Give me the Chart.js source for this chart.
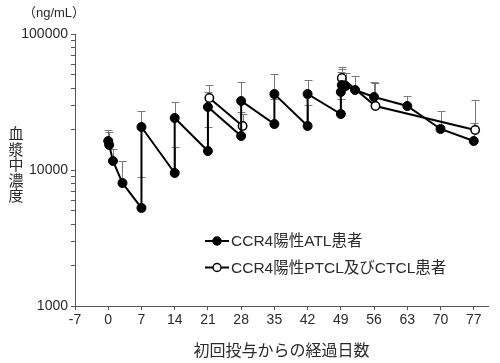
<!DOCTYPE html>
<html>
<head>
<meta charset="utf-8">
<script src="https://cdn.jsdelivr.net/npm/chart.js@4"></script>
<style>
html,body{margin:0;padding:0;background:#fff;}
#wrap{width:500px;height:363px;position:relative;}
</style>
</head>
<body>
<div id="wrap"><canvas id="c" width="500" height="363"></canvas></div>
<script>
// ---- data ----
const xTicks = [-7, 0, 7, 14, 21, 28, 35, 42, 49, 56, 63, 70, 77];
const yTickLabels = [1000, 10000, 100000];
const seriesNames = ['CCR4陽性ATL患者', 'CCR4陽性PTCL及びCTCL患者'];

const atlDays   = [0, 0.2, 1, 3, 7, 7, 14, 14, 21, 21, 28, 28, 35, 35, 42, 42, 49, 49, 49.2, 50, 52, 56, 63, 70, 77];
const atlValues = [16340, 15270, 11650, 8020, 5260, 20700, 9510, 24110, 13790, 29040, 17780, 32170, 21780, 36220, 21080, 36220, 25800, 37470, 42170, 41480, 38740, 34420, 29540, 20030, 16340];
const atlUpper  = [19680, 19030, 14270, 11650, 8880, 27160, 14760, 31620, 20700, 37470, 26690, 44370, 33270, 50800, 30070, 45900, 33000, 52600, 55300, 51700, 49100, 44370, 35000, 27160, 22170];

const ptclDays   = [21.3, 28.3, null, 49.2, 56.3, 77.3];
const ptclValues = [33840, 21080, null, 47460, 29540, 19680];
const ptclUpper  = [42170, 25800, null, 57200, 43600, 32700];

const FONT = '"Liberation Sans", "Noto Sans CJK JP", sans-serif';
const TXT = '#2a2a2a';

function toPoints(days, vals) {
  return days.map((d, i) => ({ x: d === null ? NaN : d, y: vals[i] }));
}

const errorBars = {
  id: 'errorBars',
  beforeDatasetsDraw(chart) {
    const ctx = chart.ctx, xs = chart.scales.x, ys = chart.scales.y;
    ctx.save();
    ctx.strokeStyle = '#7a7a7a';
    ctx.lineWidth = 1;
    chart.data.datasets.forEach(ds => {
      const up = ds.upper;
      ds.data.forEach((p, i) => {
        if (p.y === null || up[i] === null || isNaN(p.x)) return;
        const x = Math.round(xs.getPixelForValue(p.x)) + 0.5;
        const y0 = ys.getPixelForValue(p.y);
        const y1 = Math.round(ys.getPixelForValue(up[i])) + 0.5;
        ctx.beginPath();
        ctx.moveTo(x, y0); ctx.lineTo(x, y1);
        ctx.moveTo(x - 4, y1); ctx.lineTo(x + 4, y1);
        ctx.stroke();
      });
    });
    ctx.restore();
  }
};

const extras = {
  id: 'extras',
  afterDraw(chart) {
    const ctx = chart.ctx;
    ctx.save();
    ctx.fillStyle = TXT;
    // unit label
    ctx.font = '13px ' + FONT;
    ctx.textAlign = 'center';
    ctx.textBaseline = 'middle';
    ctx.fillText('（ng/mL）', 54, 13);
    // vertical y title
    ctx.font = '15px ' + FONT;
    const title = '血漿中濃度';
    for (let i = 0; i < title.length; i++) {
      ctx.fillText(title[i], 16, 135 + i * 15.5);
    }
    // legend
    chart.data.datasets.forEach((ds, i) => {
      const y = 241 + i * 26.5;
      ctx.strokeStyle = '#000';
      ctx.lineWidth = 2;
      ctx.beginPath(); ctx.moveTo(205, y); ctx.lineTo(229, y); ctx.stroke();
      ctx.beginPath(); ctx.arc(217, y, 4, 0, Math.PI * 2);
      ctx.fillStyle = ds.pointBackgroundColor;
      ctx.fill();
      ctx.lineWidth = 1.5;
      ctx.stroke();
      ctx.fillStyle = TXT;
      ctx.font = '15.5px ' + FONT;
      ctx.textAlign = 'left';
      ctx.fillText(ds.label, 231, y + 1);
    });
    ctx.restore();
  }
};

new Chart(document.getElementById('c'), {
  type: 'line',
  data: {
    datasets: [
      {
        label: seriesNames[0],
        data: toPoints(atlDays, atlValues),
        upper: atlUpper,
        borderColor: '#000', borderWidth: 2,
        pointBackgroundColor: '#000', pointBorderColor: '#000',
        pointRadius: 4.5, pointBorderWidth: 1,
        tension: 0, spanGaps: false
      },
      {
        label: seriesNames[1],
        data: toPoints(ptclDays, ptclValues),
        upper: ptclUpper,
        borderColor: '#000', borderWidth: 2,
        pointBackgroundColor: '#fff', pointBorderColor: '#000',
        pointRadius: 4.2, pointBorderWidth: 1.5,
        tension: 0, spanGaps: false
      }
    ]
  },
  options: {
    responsive: false,
    animation: false,
    devicePixelRatio: 1,
    layout: { padding: { top: 34, right: 12, left: 0, bottom: 0 } },
    plugins: { legend: { display: false }, tooltip: { enabled: false } },
    scales: {
      x: {
        type: 'linear', min: -7, max: 80,
        afterFit(s) { s.height = 57; },
        afterBuildTicks(s) { s.ticks = xTicks.map(v => ({ value: v })); },
        grid: { drawOnChartArea: false, drawTicks: true, tickLength: 4, color: '#555' },
        border: { color: '#555', width: 1 },
        ticks: { color: TXT, font: { family: FONT, size: 14 }, padding: 2, maxRotation: 0, autoSkip: false },
        title: { display: true, text: '初回投与からの経過日数', color: TXT, font: { family: FONT, size: 16 }, padding: { top: 0, bottom: 2 } }
      },
      y: {
        type: 'logarithmic', min: 1000, max: 100000,
        afterFit(s) { s.width = 75; },
        afterBuildTicks(s) {
          const t = [];
          for (let d = 0; d < yTickLabels.length; d++) {
            const base = yTickLabels[d];
            if (d === yTickLabels.length - 1) { t.push({ value: base }); break; }
            for (let k = 1; k <= 9; k++) t.push({ value: base * k });
          }
          s.ticks = t;
        },
        grid: { drawOnChartArea: false, drawTicks: true, tickLength: 4, color: '#555' },
        border: { color: '#555', width: 1 },
        ticks: {
          color: TXT, font: { family: FONT, size: 14 }, padding: 3, autoSkip: false,
          callback(v) { return yTickLabels.includes(v) ? String(v) : ''; }
        }
      }
    }
  },
  plugins: [errorBars, extras]
});
</script>
</body>
</html>
